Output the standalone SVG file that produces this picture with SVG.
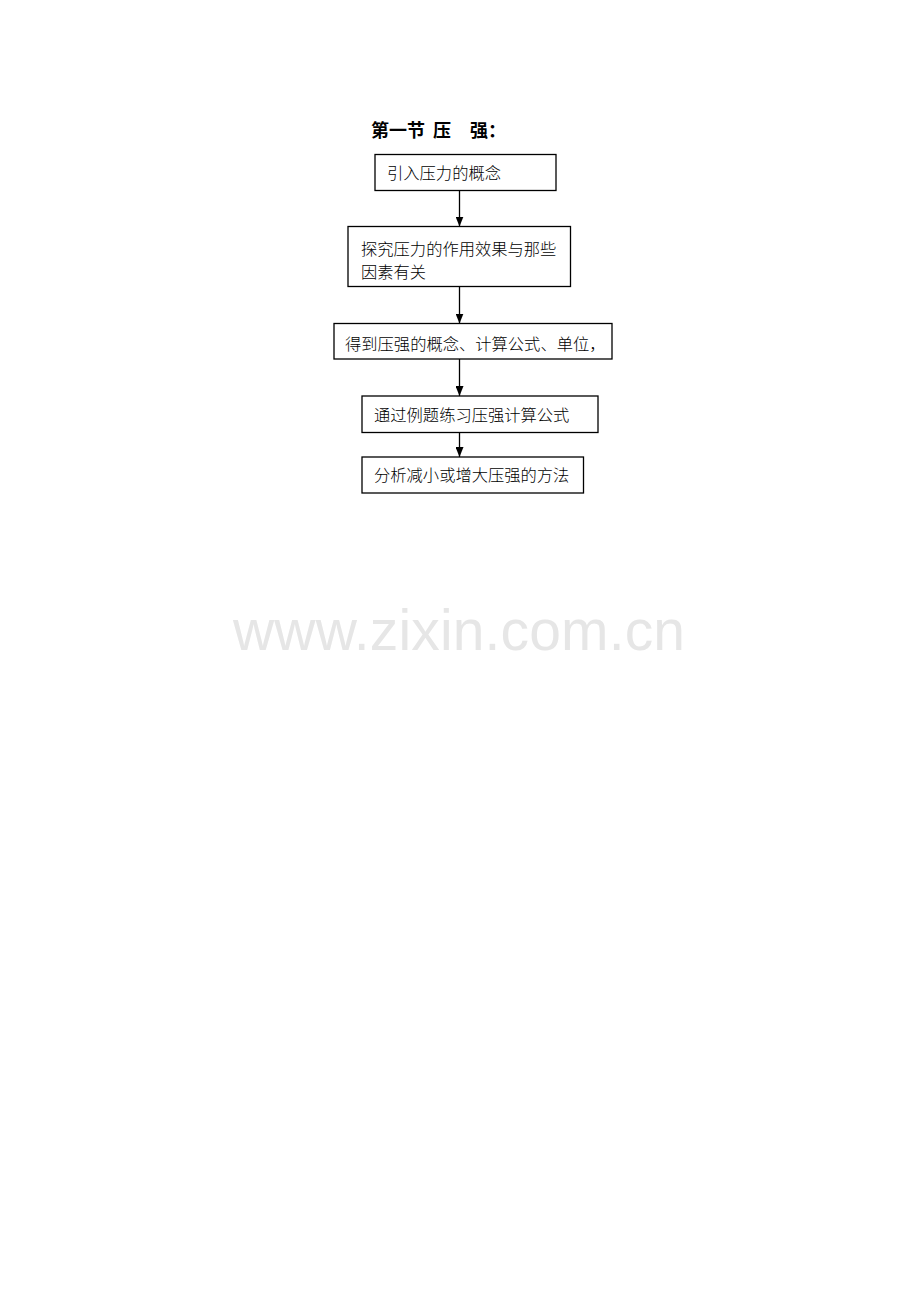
<svg xmlns="http://www.w3.org/2000/svg" width="920" height="1302" viewBox="0 0 920 1302">
  <style>
    .box { fill: #ffffff; stroke: #000000; stroke-width: 1.3; }
    .lbl { font-family: "Noto Sans CJK SC", "Noto Sans", sans-serif; font-size: 16.3px; font-weight: 300; fill: #000000; }
    .title { font-family: "Noto Sans CJK SC", "Noto Sans", sans-serif; font-size: 18px; font-weight: bold; fill: #000000; }
    .edge { stroke: #000000; stroke-width: 1.3; fill: none; marker-end: url(#arrow); }
    .wm { font-family: "Liberation Sans", Arial, sans-serif; font-size: 57px; fill: #e6e6e6; }
  </style>
  <defs>
    <marker id="arrow" markerUnits="userSpaceOnUse" markerWidth="10" markerHeight="8" refX="10" refY="4" orient="auto">
      <path d="M0,0 L10,4 L0,8 z" fill="#000000"/>
    </marker>
  </defs>
  <rect width="920" height="1302" fill="#ffffff"/>

  <g id="title">
    <text class="title" y="137"><tspan x="371">第一节</tspan><tspan x="433">压</tspan><tspan x="470">强：</tspan></text>
  </g>

  <g id="connectors">
    <line class="edge" x1="459.5" y1="190.5" x2="459.5" y2="226.5"/>
    <line class="edge" x1="459.5" y1="286.5" x2="459.5" y2="323.5"/>
    <line class="edge" x1="459.5" y1="359" x2="459.5" y2="396"/>
    <line class="edge" x1="459.5" y1="432.5" x2="459.5" y2="457"/>
  </g>

  <g id="node1">
    <rect class="box" x="375" y="154.5" width="181" height="36"/>
    <text class="lbl" x="387" y="178.5">引入压力的概念</text>
  </g>
  <g id="node2">
    <rect class="box" x="348" y="226.5" width="222.5" height="60"/>
    <text class="lbl" x="361" y="254.5">探究压力的作用效果与那些</text>
    <text class="lbl" x="361" y="277.5">因素有关</text>
  </g>
  <g id="node3">
    <rect class="box" x="334" y="323.5" width="278" height="35.5"/>
    <text class="lbl" x="345" y="349.5">得到压强的概念、计算公式、单位，</text>
  </g>
  <g id="node4">
    <rect class="box" x="362" y="396" width="236" height="36.5"/>
    <text class="lbl" x="374" y="420.5">通过例题练习压强计算公式</text>
  </g>
  <g id="node5">
    <rect class="box" x="362" y="457" width="221.5" height="36"/>
    <text class="lbl" x="374" y="480.5">分析减小或增大压强的方法</text>
  </g>

  <g id="watermark">
    <text class="wm" x="233" y="650" textLength="452" lengthAdjust="spacing">www.zixin.com.cn</text>
  </g>
</svg>
